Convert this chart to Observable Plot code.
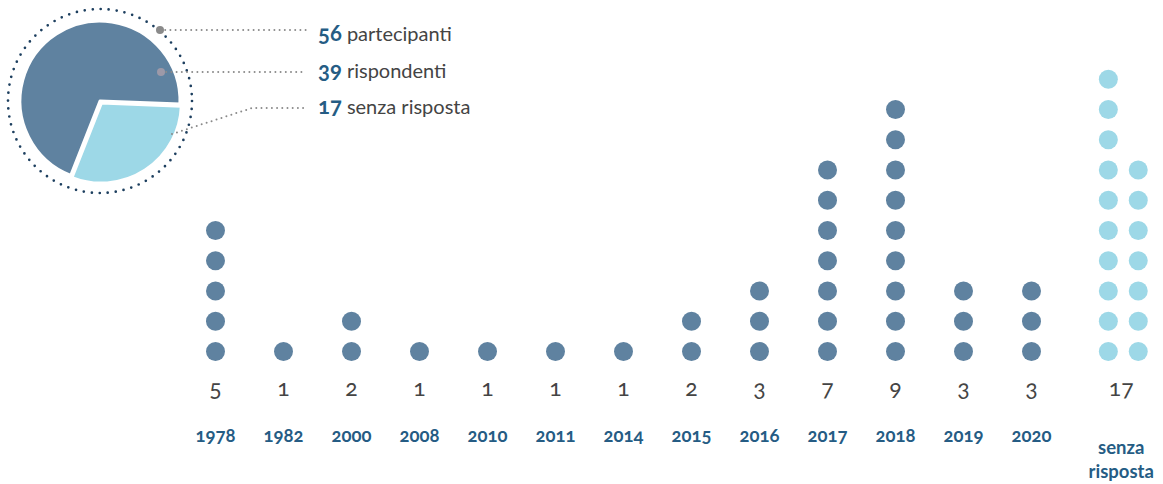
<!DOCTYPE html>
<html>
<head>
<meta charset="utf-8">
<script src="https://cdn.jsdelivr.net/npm/d3@7"></script>
<script src="https://cdn.jsdelivr.net/npm/@observablehq/plot@0.6"></script>
<style>
  html, body { margin: 0; padding: 0; background: #fff; }
  #chart svg { display: block; }
  .onum { font-variant-numeric: oldstyle-nums; font-feature-settings: "onum" 1; }
</style>
</head>
<body>
<div id="chart"></div>
<script>
// ---- data ----
const years = ["1978","1982","2000","2008","2010","2011","2014","2015","2016","2017","2018","2019","2020"];
const counts = [5, 1, 2, 1, 1, 1, 1, 2, 3, 7, 9, 3, 3];
const noAnswerLabel = "senza risposta";
const noAnswerCount = 17;
const pieLabels = ["partecipanti", "rispondenti", "senza risposta"];
const pieNumbers = [56, 39, 17];

// ---- derived tables ----
const dark = "#5f82a0", light = "#9dd8e7", blue = "#255c84", grey = "#444";
const yearTable = years.map((y, i) => ({year: y, i, count: counts[i]}));
const yearDots = yearTable.flatMap(d => d3.range(d.count).map(k => ({i: d.i, row: k})));
const naCenter = years.length - 1 + 1.35;           // extra gap before "senza risposta"
const perColumn = 10;
const naDots = d3.range(noAnswerCount).map(k => ({
  x: naCenter + (Math.floor(k / perColumn) === 0 ? -0.22 : 0.22),
  row: k % perColumn
}));

// ---- pie as a custom mark ----
function pieMark(index, scales, values, dims) {
  const g = d3.create("svg:g").attr("text-anchor", "start");
  const cx = 100, cy = 101, r = 80;
  const ringR = 92, nDots = 72;
  g.append("circle")
    .attr("cx", cx).attr("cy", cy).attr("r", ringR)
    .attr("fill", "none").attr("stroke", "#1d3f5f")
    .attr("stroke-width", 2.7).attr("stroke-linecap", "round")
    .attr("stroke-dasharray", `0 ${2 * Math.PI * ringR / nDots}`);
  const start = 201.5 * Math.PI / 180;
  const arcs = d3.pie().sort(null).startAngle(start).endAngle(start + 2 * Math.PI)([pieNumbers[1], pieNumbers[2]]);
  const arc = d3.arc().innerRadius(0).outerRadius(r);
  const fills = [dark, light];
  arcs.forEach((a, j) => {
    const mid = (a.startAngle + a.endAngle) / 2;
    const off = j === 1 ? 2.5 : 0;
    g.append("path")
      .attr("d", arc(a))
      .attr("transform", `translate(${cx + off * Math.sin(mid)},${cy - off * Math.cos(mid)})`)
      .attr("fill", fills[j])
      .attr("stroke", "#fff").attr("stroke-width", 3).attr("stroke-linejoin", "round");
  });
  // leader lines
  const leaders = [
    [[160, 30], [306, 30]],
    [[161, 72], [306, 72]],
    [[172, 134], [252, 108], [306, 108]]
  ];
  leaders.forEach(pts => {
    g.append("path")
      .attr("d", d3.line()(pts))
      .attr("fill", "none").attr("stroke", "#8a8a8a")
      .attr("stroke-width", 2).attr("stroke-linecap", "round")
      .attr("stroke-dasharray", "0 5.2");
  });
  g.append("circle").attr("cx", 160).attr("cy", 30).attr("r", 4).attr("fill", "#8a8a8a");
  g.append("circle").attr("cx", 161).attr("cy", 72).attr("r", 4).attr("fill", "#9d99a8");
  const baselines = [41, 78, 114];
  pieLabels.forEach((lab, j) => {
    const t = g.append("text").attr("x", 318).attr("y", baselines[j])
      .attr("text-anchor", "start")
      .attr("font-family", "Lato, sans-serif").attr("font-size", 20).attr("class", "onum");
    t.append("tspan").attr("font-weight", "bold").attr("fill", blue).attr("font-size", 22).text(pieNumbers[j]);
    t.append("tspan").attr("fill", grey).text(" " + lab);
  });
  return g.node();
}

const chart = Plot.plot({
  width: 1163,
  height: 484,
  margin: 0,
  x: {type: "linear", domain: [0, 12], range: [215, 1031], axis: null},
  y: {type: "linear", domain: [0, 8], range: [351, 109], axis: null},
  style: {fontFamily: "Lato, sans-serif", background: "#fff"},
  marks: [
    Plot.dot(yearDots, {x: "i", y: "row", r: 9.5, fill: dark, stroke: "none"}),
    Plot.dot(naDots, {x: "x", y: "row", r: 9.5, fill: light, stroke: "none"}),
    Plot.text(yearTable, {x: "i", y: 0, text: d => String(d.count), dy: 37, fontSize: 23, fill: grey, className: "onum"}),
    Plot.text([noAnswerCount], {x: naCenter - 0.03, y: 0, text: d => String(d), dy: 37, fontSize: 23, fill: grey, className: "onum"}),
    Plot.text(yearTable, {x: "i", y: 0, text: "year", dy: 85, fontSize: 18.5, fontWeight: "bold", fill: blue, className: "onum"}),
    Plot.text([noAnswerLabel], {x: naCenter - 0.03, y: 0, text: d => d.replace(" ", "\n"), dy: 107, lineHeight: 1.28, fontSize: 18.5, fontWeight: "bold", fill: blue}),
    pieMark
  ]
});
document.getElementById("chart").append(chart);
</script>
</body>
</html>
